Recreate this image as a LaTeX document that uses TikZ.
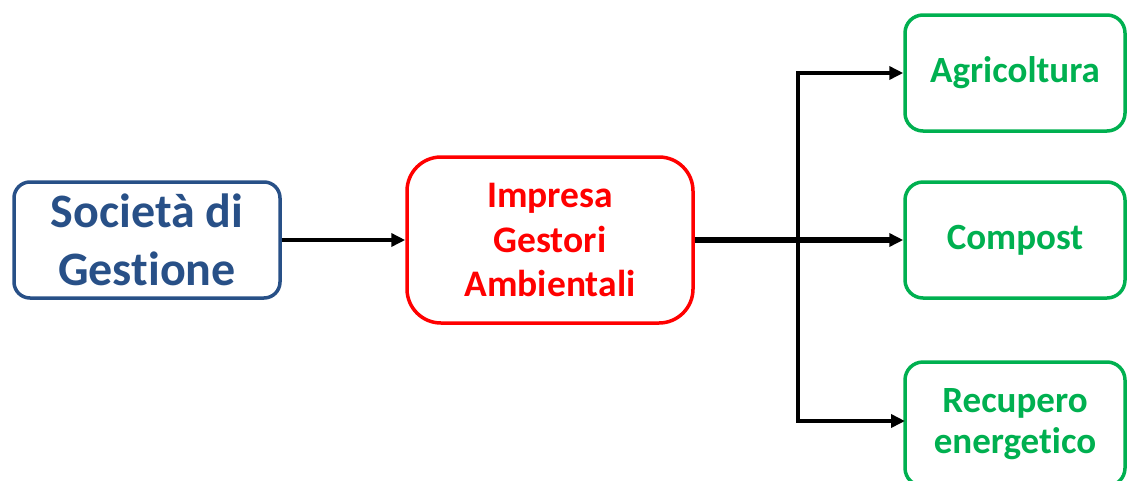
\documentclass[tikz,border=0pt]{standalone}
\usepackage{fontspec}
\setmainfont{Carlito}[Ligatures={NoCommon,NoContextual}]
\usetikzlibrary{arrows.meta}
\definecolor{dblue}{RGB}{40,80,135}
\definecolor{pgreen}{RGB}{0,176,80}
\definecolor{pred}{RGB}{255,0,0}
\begin{document}
\begin{tikzpicture}[x=1pt,y=1pt,
  boxbase/.style={draw, line width=3.5pt, align=center, inner sep=0pt, font=\bfseries},
  bluebox/.style={boxbase, draw=dblue, text=dblue, rounded corners=16pt, minimum width=266pt, minimum height=116pt, font=\bfseries\fontsize{48}{58}\selectfont},
  redbox/.style={boxbase, draw=pred, text=pred, rounded corners=34pt, minimum width=286pt, minimum height=166pt, font=\bfseries\fontsize{37.5}{44.5}\selectfont},
  greenbox/.style={boxbase, draw=pgreen, text=pgreen, rounded corners=18pt, minimum width=220pt, minimum height=116pt, font=\bfseries\fontsize{37}{41.5}\selectfont},
  conn/.style={draw=black, line width=3.5pt, -{Triangle[length=14pt,width=13pt]}}
]
\useasboundingbox (0,0) rectangle (1129,-480);
\node[bluebox] (soc) at (147,-240) {Società di\\Gestione};
\node[redbox] (imp) at (550,-240) {Impresa\\Gestori\\Ambientali};
\node[greenbox] (agr) at (1015,-73) {Agricoltura};
\node[greenbox] (com) at (1015,-240) {Compost};
\node[greenbox, minimum height=124pt] (rec) at (1015,-424) {Recupero\\energetico};
\coordinate (br) at (798,-240);
\coordinate (rin) at (905,-421);
\draw[conn] (soc.east) -- (imp.west);
\draw[conn, line width=5.5pt] (imp.east) -- (com.west);
\draw[conn] (br) |- (agr.west);
\draw[conn] (br) |- (rin);
\end{tikzpicture}
\end{document}
